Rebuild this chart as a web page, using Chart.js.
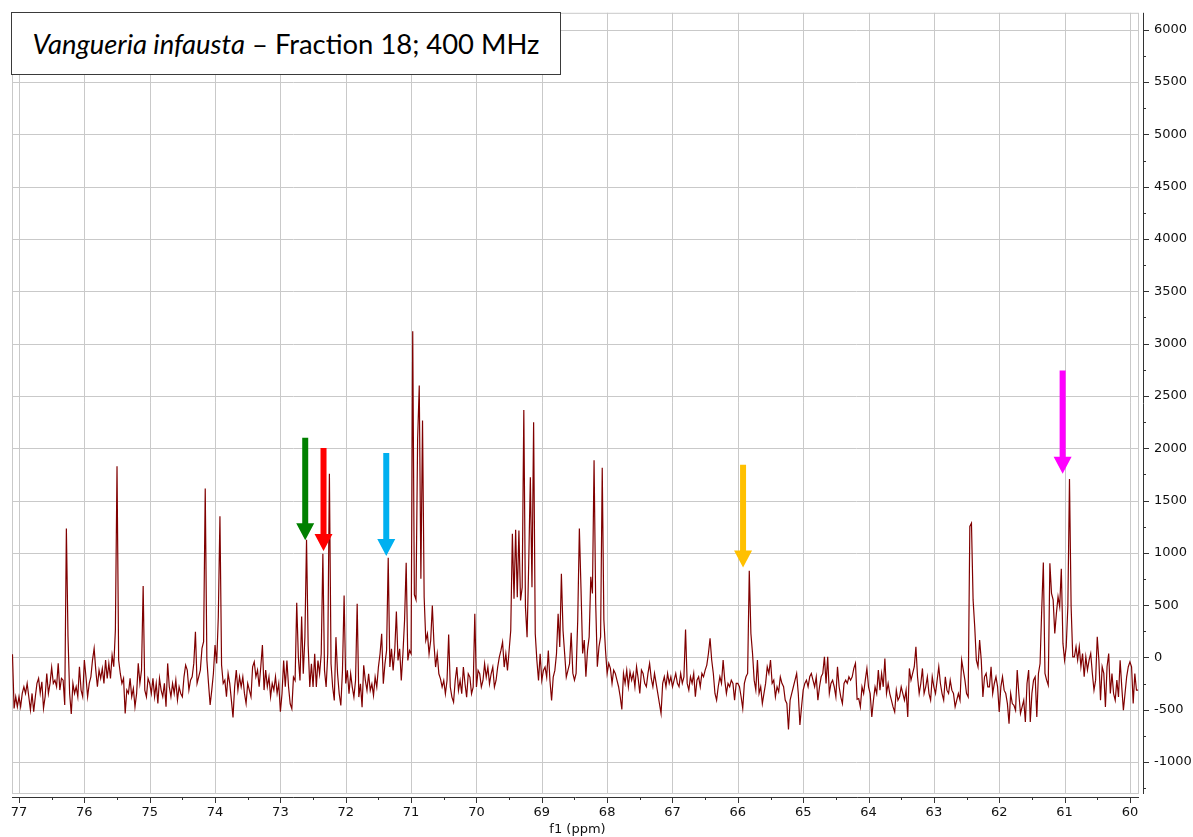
<!DOCTYPE html>
<html>
<head>
<meta charset="utf-8">
<script src="https://cdn.jsdelivr.net/npm/chart.js@4.4.1/dist/chart.umd.min.js"></script>
<style>
  html, body { margin: 0; padding: 0; background: #fff; }
  #wrap { position: relative; width: 1193px; height: 837px; }
  #titleBox {
    position: absolute; left: 11px; top: 12px; width: 548px; height: 61px;
    border: 1px solid #3a3a3a; background: #fff;
    font-family: Lato, "Open Sans", sans-serif; font-size: 27px; color: #000;
    display: flex; align-items: center; justify-content: center; white-space: nowrap;
  }
</style>
</head>
<body>
<div id="wrap">
  <canvas id="nmrChart" width="1193" height="837"></canvas>
  <div id="titleBox"><span id="titleText"><i>Vangueria infausta</i> – Fraction 18; 400 MHz</span></div>
</div>
<script>
var ppmStart = 77.1;
var ppmStep = 0.025;

// 77.100 -> 76.025
var seg77 = [30, -487, -376, -471, -376, -471, -344, -280, -344, -248, -376, -503, -344, -519, -376, -248, -200, -344, -232, -487,
  -376, -153, -344, -248, -96, -248, -217, -280, -57, -312, -200, -217, -455, 1232, 197, -344, -541, -248, -344, -280,
  -376, -89, -312, -376];
// 76.000 -> 75.025
var seg76 = [-25, -185, -376, -248, -185, -25, 86, -121, -280, -121, -200, -105, -248, -25, -200, -57, -200, 22, -89, 261,
  1828, -25, -153, -248, -200, -535, -312, -344, -200, -376, -296, -471, -344, -57, -248, -121, 682, -312, -376, -200];
var seg75 = [-248, -344, -200, -376, -248, -440, -200, -312, -376, -248, -471, -57, -280, -376, -248, -344, -217, -408, -280, -344,
  -376, -185, -73, -121, -312, -217, -185, -57, 245, -248, -185, -121, 86, 150, 1615, -25, -248, -455, -312, -153];
var seg74 = [118, -57, 389, 1350, -73, -248, -217, -376, -153, -248, -408, -573, -280, -121, -312, -185, -280, -185, -344, -440,
  -248, -312, -376, -89, -41, -185, -121, -280, -89, 118, -312, -121, -280, -185, -376, -248, -312, -185, -344, -248];
var seg73 = [-519, -344, -30, -280, -29, -283, -443, -490, -188, -220, 522, 3, -220, 392, -156, 194, 1124, 115, -283, -61,
  -283, 35, -283, -29, -156, 35, 990, -124, -283, 35, 1755, -61, -283, -411, 194, -156, -347, -459, -124, 592];
var seg72 = [-248, -124, -347, -156, -283, -379, -220, 513, -379, -252, -475, -76, -220, -315, -156, -315, -252, -363, -188, -283,
  -92, 35, 226, -252, -61, 67, 952, -92, 83, -124, 67, 439, -29, 83, -220, 35, 354, 904, -29, 67];
var seg71 = [35, 3118, 600, 551, 2089, 2599, 752, 2264, 576, 162, 226, 35, 162, 497, 131, -92, 35, -156, -204, -283,
  -220, -347, -220, 220, -283, -379, -427, -220, -92, -315, -220, -347, -92, -252, -379, -156, -188, -347, -283, 417];
var seg70 = [-283, -124, -156, -283, -220, -61, -188, -92, -252, -156, -92, -283, -220, -92, 3, 67, 146, -92, 35, -124,
  67, 258, 1182, 560, 1220, 576, 1213, 545, 670, 2366, 480, 194, 900, 1723, 672, 2248, 226, -29, -220, 35];
var seg69 = [-220, -124, -92, -188, 67, -220, -411, -188, -124, 35, 417, 99, 800, 258, 35, -188, -124, -60, 235, -150,
  -217, -153, 357, 1232, 659, 38, 166, -185, 70, 197, 771, 611, 1885, 516, -89, 102, 197, 1812, 357, 70];
var seg68 = [-153, -57, -105, -248, -121, -153, -217, -280, -376, -497, -153, -248, -121, -280, -137, -217, -153, -280, -89, -201,
  -344, -121, -153, -248, -280, -153, -57, -201, -280, -153, -248, -344, -440, -535, -248, -185, -280, -153, -248, -185];
var seg67 = [-280, -217, -153, -248, -280, -153, -248, -185, 268, -248, -312, -185, -248, -153, -376, -217, -185, -280, -153, -185,
  -121, -73, 38, 182, -25, -153, -344, -408, -280, -185, -248, -25, -217, -344, -248, -280, -217, -248, -408, -248];
var seg66 = [-248, -280, -376, -487, -248, -185, -153, 828, 229, 38, -217, -312, -25, -344, -280, -440, -344, -248, -89, -153,
  -25, -248, -217, -376, -280, -328, -185, -248, -280, -408, -440, -688, -408, -344, -280, -217, -153, -344, -646, -471];
var seg65 = [-312, -248, -217, -280, -185, -153, -217, -280, -185, -408, -280, -185, -153, 6, -248, 6, -344, -248, -217, -280,
  -376, -89, -280, -376, -440, -248, -217, -248, -185, -217, -185, -105, -57, -400, -393, -473, -281, -345, -217, -105];
var seg64 = [-281, -345, -569, -409, -281, -345, -121, -313, -153, -281, -10, -345, -249, -345, -409, -473, -521, -313, -409, -377,
  -281, -345, -409, -313, -569, -105, -217, -153, -89, 102, -185, -345, -249, -105, -345, -281, -185, -345, -409, -185];
var seg63 = [-281, -345, -217, -89, -249, -345, -409, -185, -313, -345, -217, -313, -345, -473, -409, -345, -409, -26, -121, -217,
  -345, -377, 1252, 1284, 550, 294, -26, -89, 166, -26, -377, -185, -153, -281, -281, -89, -345, -249, -185, -281];
var seg62 = [-521, -281, -185, -313, -345, -441, -633, -345, -441, -457, -505, -121, -345, -537, -473, -409, -617, -249, -121, -617,
  -345, -217, -185, -569, -153, -58, 453, 907, -153, -217, -265, 901, 613, 550, 230, 422, 581, 486, 847, 134];
// 61.000 -> 59.875
var seg61 = [-26, 102, 486, 1706, 486, 6, 6, 102, -26, 102, -89, 38, -185, 6, -121, -26, 38, -153, -313, -217,
  198, -26, -409, -89, -153, -473, -89, 38, -345, -153, -345, -409, -217, -377, -26, -281, -505, -345, -185, -89,
  -42, -89, -441, -153, -313, -313];

// tick labels
var ppmTicks = [77, 76, 75, 74, 73, 72, 71, 70, 69, 68, 67, 66, 65, 64, 63, 62, 61, 60];
var intensityTicks = [-1000, -500, 0, 500, 1000, 1500, 2000, 2500, 3000, 3500, 4000, 4500, 5000, 5500, 6000];

// arrows marking the assigned signals
var arrowPpm = [72.62, 72.34, 71.38, 65.92, 61.03];
var arrowFrom = [2101, 2002, 1954, 1843, 2744];
var arrowTo = [1120, 1018, 970, 860, 1757];
var arrowColors = ['#008000', '#ff0000', '#00b0f0', '#ffc000', '#ff00ff'];

var intensity = [].concat(seg77, seg76, seg75, seg74, seg73, seg72, seg71, seg70, seg69,
  seg68, seg67, seg66, seg65, seg64, seg63, seg62, seg61);
var spectrum = intensity.map(function (v, i) {
  return { x: +(ppmStart - i * ppmStep).toFixed(3), y: v };
});

var axisFont = { family: 'DejaVu Sans', size: 13 };

// grid, frame, axis lines and ticks drawn by hand so the frame sits inside the axes
var frameAndAxes = {
  id: 'frameAndAxes',
  beforeDatasetsDraw: function (chart) {
    var ctx = chart.ctx, a = chart.chartArea, x = chart.scales.x, y = chart.scales.y;
    var right = a.right - 5, bottom = a.bottom - 4;
    ctx.save();
    ctx.strokeStyle = '#c9c9c9';
    ctx.lineWidth = 1;
    ctx.beginPath();
    x.ticks.forEach(function (t) {
      var px = Math.round(x.getPixelForValue(t.value)) + 0.5;
      ctx.moveTo(px, a.top); ctx.lineTo(px, bottom);
    });
    y.ticks.forEach(function (t) {
      var py = Math.round(y.getPixelForValue(t.value)) + 0.5;
      ctx.moveTo(a.left, py); ctx.lineTo(right, py);
    });
    ctx.stroke();
    ctx.strokeRect(a.left + 0.5, a.top + 0.5, right - a.left, bottom - a.top);

    // axis lines
    ctx.strokeStyle = '#333';
    ctx.beginPath();
    ctx.moveTo(a.left, a.bottom + 0.5); ctx.lineTo(right + 1, a.bottom + 0.5);
    ctx.moveTo(a.right + 0.5, a.top); ctx.lineTo(a.right + 0.5, bottom + 1);
    // x ticks: major every ppm, minor every half ppm
    for (var v = Math.ceil(x.min * 2) / 2; v <= x.max; v += 0.5) {
      var px = Math.round(x.getPixelForValue(v)) + 0.5;
      var len = (v % 1 === 0) ? 6 : 3;
      ctx.moveTo(px, a.bottom); ctx.lineTo(px, a.bottom + len);
    }
    // y ticks: major every 500, minor every 250
    for (var w = Math.ceil(y.min / 250) * 250; w <= y.max; w += 250) {
      var py = Math.round(y.getPixelForValue(w)) + 0.5;
      var l2 = (w % 500 === 0) ? 6 : 3;
      ctx.moveTo(a.right, py); ctx.lineTo(a.right + l2, py);
    }
    ctx.stroke();
    ctx.restore();
  },
  afterDatasetsDraw: function (chart) {
    var ctx = chart.ctx, x = chart.scales.x, y = chart.scales.y;
    ctx.save();
    for (var i = 0; i < arrowPpm.length; i++) {
      var cx = x.getPixelForValue(arrowPpm[i]);
      var top = y.getPixelForValue(arrowFrom[i]);
      var tip = y.getPixelForValue(arrowTo[i]);
      var headLen = 17, headHalf = 9, shaftHalf = 3;
      ctx.fillStyle = arrowColors[i];
      ctx.beginPath();
      ctx.moveTo(cx - shaftHalf, top);
      ctx.lineTo(cx + shaftHalf, top);
      ctx.lineTo(cx + shaftHalf, tip - headLen);
      ctx.lineTo(cx + headHalf, tip - headLen);
      ctx.lineTo(cx, tip);
      ctx.lineTo(cx - headHalf, tip - headLen);
      ctx.lineTo(cx - shaftHalf, tip - headLen);
      ctx.closePath();
      ctx.fill();
    }
    ctx.restore();
  }
};

var ctx = document.getElementById('nmrChart').getContext('2d');
new Chart(ctx, {
  type: 'line',
  data: {
    datasets: [{
      data: spectrum,
      borderColor: '#800000',
      borderWidth: 1.2,
      pointRadius: 0,
      tension: 0,
      fill: false
    }]
  },
  options: {
    responsive: false,
    animation: false,
    devicePixelRatio: 1,
    layout: { padding: { left: 12, top: 12, right: 0, bottom: 0 } },
    plugins: { legend: { display: false }, tooltip: { enabled: false } },
    scales: {
      x: {
        type: 'linear',
        reverse: true,
        min: 59.8,
        max: 77.107,
        afterBuildTicks: function (s) { s.ticks = ppmTicks.map(function (v) { return { value: v }; }); },
        afterFit: function (s) { s.height = 40; },
        grid: { display: false, drawTicks: true, tickLength: 6 },
        border: { display: false },
        ticks: {
          autoSkip: false, maxRotation: 0,
          padding: 2, color: '#111', font: axisFont,
          callback: function (v) { return String(v); }
        },
        title: { display: true, text: 'f1 (ppm)', color: '#111', font: axisFont, padding: { top: 0, bottom: 0 } }
      },
      y: {
        type: 'linear',
        position: 'right',
        min: -1334,
        max: 6162,
        afterBuildTicks: function (s) { s.ticks = intensityTicks.map(function (v) { return { value: v }; }); },
        afterFit: function (s) { s.width = 50; },
        grid: { display: false, drawTicks: true, tickLength: 6 },
        border: { display: false },
        ticks: {
          autoSkip: false, padding: 5, color: '#111', font: axisFont,
          callback: function (v) { return String(v); }
        }
      }
    }
  },
  plugins: [frameAndAxes]
});

// fit the title text to the width it has in the figure
var tt = document.getElementById('titleText');
var fs = 27 * 508 / tt.offsetWidth;
document.getElementById('titleBox').style.fontSize = fs.toFixed(1) + 'px';
</script>
</body>
</html>
